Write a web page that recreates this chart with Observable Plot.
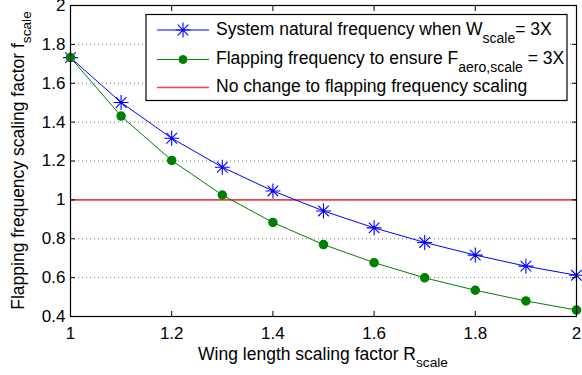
<!DOCTYPE html>
<html>
<head>
<meta charset="utf-8">
<script src="https://cdn.jsdelivr.net/npm/d3@7"></script>
<script src="https://cdn.jsdelivr.net/npm/@observablehq/plot@0.6"></script>
<style>
  html, body { margin: 0; padding: 0; background: white; }
  #chart svg { display: block; }
</style>
</head>
<body>
<div id="chart"></div>
<script>
// ---- data ----
const wingScale = [1, 1.1, 1.2, 1.3, 1.4, 1.5, 1.6, 1.7, 1.8, 1.9, 2];
const naturalFreq = [1.732, 1.501, 1.317, 1.168, 1.046, 0.943, 0.856, 0.781, 0.716, 0.659, 0.612];
const flapFreq = [1.732, 1.431, 1.203, 1.025, 0.884, 0.770, 0.677, 0.599, 0.535, 0.480, 0.433];
const noChange = 1;
const xTicks = [1, 1.2, 1.4, 1.6, 1.8, 2];
const xTickLabels = ["1", "1.2", "1.4", "1.6", "1.8", "2"];
const yTicks = [0.4, 0.6, 0.8, 1, 1.2, 1.4, 1.6, 1.8, 2];
const yTickLabels = ["0.4", "0.6", "0.8", "1", "1.2", "1.4", "1.6", "1.8", "2"];
const seriesNames = ["natural", "flapping"];

const naturalRows = wingScale.map((x, i) => ({x, y: naturalFreq[i], series: seriesNames[0]}));
const flapRows = wingScale.map((x, i) => ({x, y: flapFreq[i], series: seriesNames[1]}));

const BLUE = "#0000ff", GREEN = "#008000", RED = "#ff4040";
const FONT = "'Liberation Sans', Arial, Helvetica, sans-serif";

// 8-armed asterisk (MATLAB '*')
const asterisk8 = {
  draw(ctx, size) {
    const r = Math.sqrt(size / Math.PI);
    const d = r * Math.SQRT1_2;
    ctx.moveTo(-r, 0); ctx.lineTo(r, 0);
    ctx.moveTo(0, -r); ctx.lineTo(0, r);
    ctx.moveTo(-d, -d); ctx.lineTo(d, d);
    ctx.moveTo(-d, d); ctx.lineTo(d, -d);
  }
};

const fmtX = d => xTickLabels[xTicks.indexOf(d)];
const fmtY = d => yTickLabels[yTicks.indexOf(d)];
const blank = () => "";

const svg = Plot.plot({
  width: 582,
  height: 375,
  marginLeft: 70,
  marginRight: 6,
  marginTop: 5,
  marginBottom: 59,
  x: {domain: [1, 2], label: null},
  y: {domain: [0.4, 2], label: null},
  style: {fontFamily: FONT, fontSize: "17px", color: "black", background: "white", overflow: "visible"},
  marks: [
    Plot.ruleY([noChange], {stroke: RED, strokeWidth: 1.6}),
    Plot.ruleY(yTicks.slice(1, -1), {stroke: "#555", strokeDasharray: "1,3", strokeWidth: 1, strokeOpacity: 0.8}),
    Plot.line(naturalRows, {x: "x", y: "y", stroke: BLUE, strokeWidth: 1}),
    Plot.line(flapRows, {x: "x", y: "y", stroke: GREEN, strokeWidth: 1}),
    Plot.dot(naturalRows, {x: "x", y: "y", r: 7.5, symbol: asterisk8, stroke: BLUE, strokeWidth: 1.1, fill: "none"}),
    Plot.dot(flapRows, {x: "x", y: "y", r: 4, fill: GREEN, stroke: GREEN}),
    Plot.frame({stroke: "black", strokeWidth: 1.2}),
    // inward ticks
    Plot.axisX({ticks: xTicks, anchor: "bottom", tickSize: 5, dy: -5, tickFormat: blank, label: null}),
    Plot.axisX({ticks: xTicks, anchor: "top", tickSize: 5, dy: 5, tickFormat: blank, label: null}),
    Plot.axisY({ticks: yTicks, anchor: "left", tickSize: 5, dx: 5, tickFormat: blank, label: null}),
    Plot.axisY({ticks: yTicks, anchor: "right", tickSize: 5, dx: -5, tickFormat: blank, label: null}),
    // tick labels
    Plot.axisX({ticks: xTicks, anchor: "bottom", tickSize: 0, tickPadding: 10, tickFormat: fmtX, label: null}),
    Plot.axisY({ticks: yTicks, anchor: "left", tickSize: 0, tickPadding: 5, tickFormat: fmtY, label: null})
  ]
});

const s = d3.select(svg);

// axis titles with subscripts
const xt = s.append("text")
  .attr("x", 323).attr("y", 360)
  .attr("text-anchor", "middle")
  .attr("font-family", FONT).attr("font-size", 17.5).attr("fill", "black");
xt.append("tspan").text("Wing length scaling factor R");
xt.append("tspan").attr("dy", 7).attr("font-size", 13.7).text("scale");

const yt = s.append("text")
  .attr("transform", "translate(23.5,160.5) rotate(-90)")
  .attr("text-anchor", "middle")
  .attr("font-family", FONT).attr("font-size", 17.5).attr("fill", "black");
yt.append("tspan").text("Flapping frequency scaling factor f");
yt.append("tspan").attr("dy", 7.5).attr("font-size", 13.7).text("scale");

// legend
const lg = s.append("g").attr("font-family", FONT).attr("font-size", 17.5).attr("fill", "black")
  .attr("text-anchor", "start");
lg.append("rect").attr("x", 146).attr("y", 14.5).attr("width", 421).attr("height", 86)
  .attr("fill", "white").attr("stroke", "black").attr("stroke-width", 1.2);

const rowsY = [30, 59.5, 87.5];
const markerPath = d3.symbol(asterisk8, 56 * Math.PI)();
const dotPath = d3.symbol(d3.symbolCircle, 16 * Math.PI)();
const legendItems = [
  {color: BLUE, marker: "ast", parts: [["System natural frequency when W", 0], ["scale", 1], ["= 3X", 0]]},
  {color: GREEN, marker: "dot", parts: [["Flapping frequency to ensure F", 0], ["aero,scale", 1], [" = 3X", 0]]},
  {color: RED, marker: null, parts: [["No change to flapping frequency scaling", 0]]}
];
legendItems.forEach((it, i) => {
  const y = rowsY[i];
  lg.append("line").attr("x1", 157).attr("x2", 209).attr("y1", y).attr("y2", y)
    .attr("stroke", it.color).attr("stroke-width", it.marker ? 1 : 1.6);
  if (it.marker === "ast") {
    lg.append("path").attr("d", markerPath).attr("transform", `translate(183,${y})`)
      .attr("stroke", it.color).attr("fill", "none").attr("stroke-width", 1.1);
  } else if (it.marker === "dot") {
    lg.append("path").attr("d", dotPath).attr("transform", `translate(183,${y})`)
      .attr("stroke", it.color).attr("fill", it.color);
  }
  const t = lg.append("text").attr("x", 216).attr("y", y + 4.5).attr("text-anchor", "start");
  let sub = false;
  it.parts.forEach(([str, isSub]) => {
    const ts = t.append("tspan").text(str);
    if (isSub && !sub) { ts.attr("dy", 8).attr("font-size", 14); sub = true; }
    else if (!isSub && sub) { ts.attr("dy", -8); sub = false; }
  });
});

document.getElementById("chart").appendChild(svg);
</script>
</body>
</html>
